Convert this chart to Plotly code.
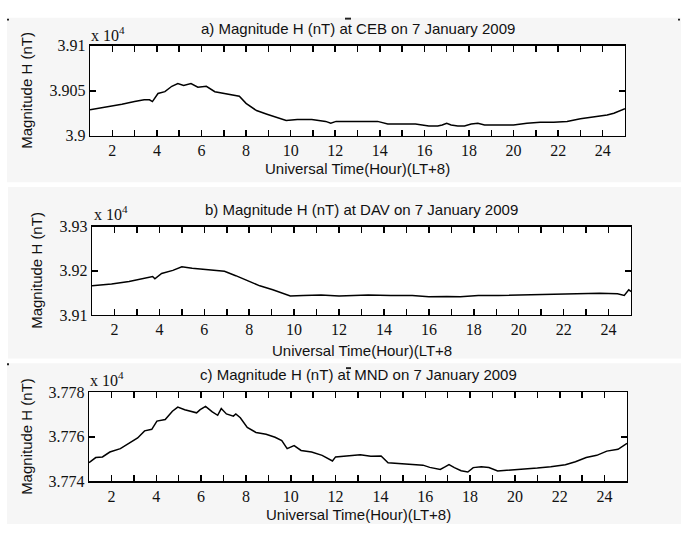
import plotly.graph_objects as go

# ---------------- data (hours UT, H in nT) ----------------
hours_a = [1.0, 1.5, 2.0, 2.43, 3.0, 3.43, 3.67, 3.8, 4.05, 4.36, 4.67, 4.94, 5.2, 5.53, 5.84,
           6.22, 6.6, 7.0, 7.47, 7.7, 8.0, 8.47, 8.94, 9.4, 9.8, 10.3, 10.95, 11.57, 11.8, 12.04,
           12.66, 13.28, 13.9, 14.36, 14.83, 15.6, 16.2, 16.6, 16.8, 17.0, 17.2, 17.5, 17.8, 18.1,
           18.4, 18.7, 19.35, 20.0, 20.6, 21.2, 21.8, 22.4, 23.0, 23.6, 24.2, 24.5, 25.0]
h_ceb = [39029, 39031, 39033, 39035, 39038, 39040, 39040, 39038, 39047, 39049, 39055, 39058, 39056,
         39058, 39054, 39055, 39049, 39047, 39045, 39044, 39036, 39028, 39024, 39020, 39017, 39018,
         39018, 39016, 39014, 39016, 39016, 39016, 39016, 39013, 39013, 39013, 39011, 39011, 39012,
         39014, 39012, 39011, 39011, 39013, 39014, 39012, 39012, 39012, 39014, 39015, 39015, 39016,
         39019, 39021, 39023, 39025, 39030]

hours_b = [1.0, 1.87, 2.65, 3.4, 3.7, 3.8, 4.1, 4.6, 5.0, 5.46, 5.95, 6.5, 6.9, 7.4, 7.9, 8.47,
           9.05, 9.54, 9.83, 10.4, 11.2, 12.0, 13.3, 14.3, 15.26, 16.0, 16.8, 17.4, 18.2, 19.1,
           20.1, 21.3, 22.4, 23.6, 24.4, 24.7, 24.9, 25.0]
h_dav = [39166, 39170, 39176, 39184, 39187, 39182, 39194, 39201, 39209, 39206, 39204, 39202, 39199,
         39189, 39179, 39166, 39157, 39149, 39143, 39144, 39145, 39143, 39145, 39144, 39144, 39141,
         39142, 39141, 39144, 39144, 39145, 39146, 39148, 39149, 39148, 39144, 39157, 39153]

hours_c = [1.0, 1.3, 1.6, 1.93, 2.4, 2.7, 3.17, 3.48, 3.8, 4.03, 4.4, 4.72, 4.96, 5.27, 5.5, 5.8,
           5.96, 6.2, 6.5, 6.74, 6.9, 7.13, 7.44, 7.55, 7.75, 8.06, 8.45, 8.9, 9.3, 9.6, 9.84,
           10.15, 10.46, 10.93, 11.4, 11.7, 11.86, 12.0, 12.6, 13.1, 13.57, 14.03, 14.34, 14.8,
           15.4, 15.9, 16.2, 16.67, 16.9, 17.06, 17.3, 17.6, 17.9, 18.14, 18.5, 18.84, 19.23,
           19.77, 20.4, 21.0, 21.6, 22.25, 22.7, 23.18, 23.65, 24.1, 24.6, 24.8, 25.0]
h_mnd = [37748.4, 37750.7, 37751.0, 37753.2, 37754.7, 37756.6, 37759.5, 37762.7, 37763.4, 37767.1,
         37767.8, 37771.5, 37773.4, 37772.2, 37771.5, 37770.8, 37772.2, 37773.7, 37771.2, 37769.7,
         37772.7, 37770.3, 37769.3, 37770.3, 37768.6, 37764.2, 37762.0, 37761.2, 37759.8, 37758.3,
         37754.7, 37756.1, 37753.9, 37753.2, 37751.7, 37750.3, 37749.2, 37751.0, 37751.4, 37752.0,
         37751.3, 37751.4, 37748.4, 37748.1, 37747.8, 37747.3, 37746.3, 37745.4, 37746.6, 37747.5,
         37746.2, 37744.8, 37744.2, 37746.2, 37746.6, 37746.2, 37744.7, 37745.1, 37745.3, 37746.0,
         37746.6, 37747.5, 37748.8, 37750.7, 37751.7, 37753.6, 37754.4, 37755.7, 37757.1]

x_major_step = 2
x_minor_step = 1

y_ticks_a = [39000, 39050, 39100]
y_text_a = ["3.9", "3.905", "3.91"]
y_ticks_b = [39100, 39200, 39300]
y_text_b = ["3.91", "3.92", "3.93"]
y_ticks_c = [37740, 37760, 37780]
y_text_c = ["3.774", "3.776", "3.778"]

titles = ["a) Magnitude H (nT) at CEB on 7 January 2009",
          "b) Magnitude H (nT) at DAV on 7 January 2009",
          "c) Magnitude H (nT) at MND on 7 January 2009"]
xlabels = ["Universal Time(Hour)(LT+8)", "Universal Time(Hour)(LT+8", "Universal Time(Hour)(LT+8)"]
ylabel = "Magnitude H (nT)"

# ---------------- layout helpers ----------------
W, H = 681, 533
def xp(p): return p / W
def yp(p): return 1 - p / H

panels = [
    dict(x=(90, 625), y=(39, 132), bg=(7, 10, 681, 180), title_y=21, xl_y=166, yl_x=27, exp=(89, 27),
         hours=hours_a, vals=h_ceb, yt=y_ticks_a, ytt=y_text_a),
    dict(x=(92, 631), y=(226, 317), bg=(8, 185, 681, 362), title_y=208, xl_y=354, yl_x=37, exp=(92, 212),
         hours=hours_b, vals=h_dav, yt=y_ticks_b, ytt=y_text_b),
    dict(x=(89, 627), y=(397, 489), bg=(7, 367, 681, 533), title_y=379, xl_y=523, yl_x=27, exp=(88, 383),
         hours=hours_c, vals=h_mnd, yt=y_ticks_c, ytt=y_text_c),
]

fig = go.Figure()
shapes = []
annotations = []
layout = dict(width=W, height=H, margin=dict(l=0, r=0, t=0, b=0), autosize=False,
              paper_bgcolor="white", plot_bgcolor="rgba(0,0,0,0)", showlegend=False)

tickfont = dict(family="Liberation Serif, Times New Roman, serif", size=16, color="#111")
sans = dict(family="Liberation Sans, Arial, sans-serif", size=15, color="#111")

for i, p in enumerate(panels):
    n = "" if i == 0 else str(i + 1)
    xa, ya = "x" + n, "y" + n
    fig.add_trace(go.Scatter(x=p["hours"], y=p["vals"], mode="lines",
                             line=dict(color="black", width=1.5),
                             xaxis=xa, yaxis=ya, hoverinfo="skip"))
    layout["xaxis" + n] = dict(domain=[xp(p["x"][0]), xp(p["x"][1])], anchor=ya, range=[1, 25],
                               tickmode="linear", tick0=0, dtick=x_major_step,
                               ticks="inside", ticklen=6, tickwidth=1.5,
                               tickcolor="black", showline=True, linecolor="black", linewidth=1.3,
                               mirror="ticks", showgrid=False, zeroline=False, tickfont=tickfont,
                               minor=dict(dtick=x_minor_step, ticks="inside", ticklen=6,
                                          tickwidth=1.5, tickcolor="black", showgrid=False))
    layout["yaxis" + n] = dict(domain=[yp(p["y"][1]), yp(p["y"][0])], anchor=xa,
                               range=[p["yt"][0], p["yt"][-1]], tickvals=p["yt"], ticktext=p["ytt"],
                               ticks="inside", ticklen=6, tickwidth=1.5, tickcolor="black",
                               showline=True, linecolor="black", linewidth=1.3, mirror="ticks",
                               showgrid=False, zeroline=False, tickfont=tickfont)
    x0, y0, x1, y1 = p["bg"]
    shapes.append(dict(type="rect", xref="paper", yref="paper", x0=xp(x0), x1=xp(x1),
                       y0=yp(y1), y1=yp(y0), fillcolor="#f6f6f6", line=dict(width=0),
                       layer="below"))
    shapes.append(dict(type="rect", xref=xa + " domain", yref=ya + " domain", x0=0, x1=1, y0=0, y1=1,
                       fillcolor="white", line=dict(width=0), layer="below"))
    cx = (p["x"][0] + p["x"][1]) / 2
    annotations.append(dict(text=titles[i], x=xp(cx), y=yp(p["title_y"]), xref="paper", yref="paper",
                            showarrow=False, xanchor="center", yanchor="middle", font=sans))
    annotations.append(dict(text=xlabels[i], x=xp(cx), y=yp(p["xl_y"]), xref="paper", yref="paper",
                            showarrow=False, xanchor="center", yanchor="middle", font=sans))
    annotations.append(dict(text=ylabel, x=xp(p["yl_x"]), y=yp((p["y"][0] + p["y"][1]) / 2),
                            xref="paper", yref="paper", showarrow=False, textangle=-90,
                            xanchor="center", yanchor="middle", font=sans))
    annotations.append(dict(text="x 10<sup>4</sup>", x=xp(p["exp"][0]), y=yp(p["exp"][1]),
                            xref="paper", yref="paper", showarrow=False, xanchor="left",
                            yanchor="middle",
                            font=dict(family="Liberation Serif, Times New Roman, serif", size=16,
                                      color="#111")))

# small scan artefacts (overline marks and corner dots) seen in the reference
for (ax0, ay0, ax1, ay1) in [(345, 10, 351, 12), (346, 371, 351, 373), (7, 11, 9, 13),
                             (678, 11, 680, 13), (7, 367, 9, 369)]:
    shapes.append(dict(type="rect", xref="paper", yref="paper", x0=xp(ax0), x1=xp(ax1),
                       y0=yp(ay1), y1=yp(ay0), fillcolor="#222", line=dict(width=0)))

layout["shapes"] = shapes
layout["annotations"] = annotations
fig.update_layout(**layout)
fig.write_html(
    "out.html", config={"displayModeBar": False, "staticPlot": True},
    post_script=("var h=document.documentElement,b=document.body;"
                 "h.style.margin='0';h.style.padding='0';h.style.overflow='hidden';"
                 "b.style.margin='0';b.style.padding='0';b.style.overflow='hidden';"
                 "var g=document.getElementById('{plot_id}');"
                 "if(g){g.style.position='fixed';g.style.left='0px';g.style.top='0px';"
                 "g.style.margin='0';}"))
